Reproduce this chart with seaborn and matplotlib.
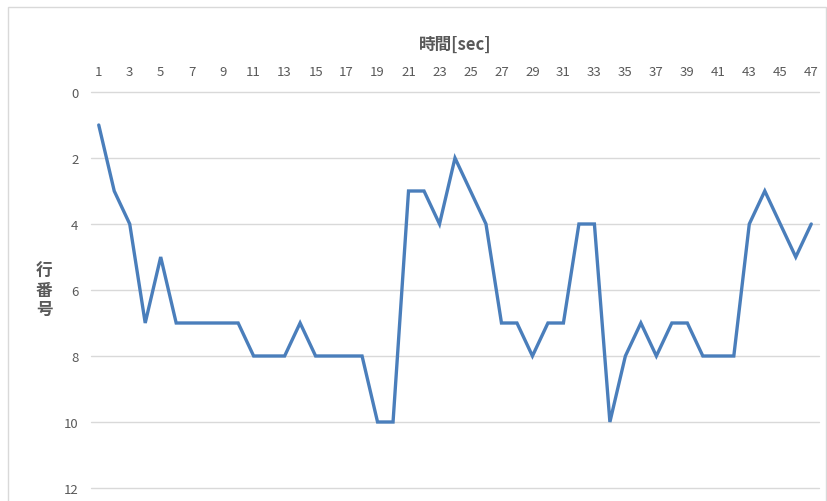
import matplotlib
matplotlib.use("Agg")
import matplotlib.pyplot as plt
import matplotlib.patches as mpatches
import seaborn as sns
import pandas as pd

# Elapsed time (seconds) and the row number observed at each second
seconds = list(range(1, 48))
row_numbers = [1, 3, 4, 7, 5, 7, 7, 7, 7, 7,
               8, 8, 8, 7, 8, 8, 8, 8, 10, 10,
               3, 3, 4, 2, 3, 4, 7, 7, 8, 7,
               7, 4, 4, 10, 8, 7, 8, 7, 7, 8,
               8, 8, 4, 3, 4, 5, 4]
y_ticks = [0, 2, 4, 6, 8, 10, 12]
x_ticks = list(range(1, 48, 2))
x_title = "時間[sec]"
y_title = "行\n番\n号"

df = pd.DataFrame({"sec": seconds, "row": row_numbers})

sns.set_theme(style="white")
plt.rcParams["font.family"] = ["Noto Sans CJK JP", "DejaVu Sans"]

W, H = 827, 502
fig = plt.figure(figsize=(W / 100, H / 100), dpi=100)
ax = fig.add_axes([91 / W, 1 - 489 / H, (819 - 91) / W, (489 - 93) / H])

sns.lineplot(data=df, x="sec", y="row", ax=ax, color="#4A7EBB",
             linewidth=2.4, solid_joinstyle="miter")

ax.set_xlim(0.5, 47.5)
ax.set_ylim(12, 0)
ax.set_yticks(y_ticks)
ax.set_xticks(x_ticks)
ax.xaxis.tick_top()
ax.xaxis.set_label_position("top")

tick_color = "#595959"
ax.tick_params(axis="x", length=0, pad=10, labelsize=9.5, labelcolor=tick_color)
ax.tick_params(axis="y", length=0, pad=9, labelsize=9.5, labelcolor=tick_color)

ax.grid(axis="y", color="#D9D9D9", linewidth=1.0)
ax.grid(axis="x", visible=False)
for gl in ax.yaxis.get_gridlines():
    gl.set_clip_on(False)
ax.set_axisbelow(True)
for side in ["left", "right", "bottom", "top"]:
    ax.spines[side].set_visible(False)

ax.set_xlabel(x_title, fontsize=12, fontweight="bold", color=tick_color, labelpad=12)
ax.set_ylabel(y_title, fontsize=12, fontweight="bold", color=tick_color,
              rotation=0, labelpad=14, va="center", linespacing=1.05)

# Light frame around the chart area
frame = mpatches.Rectangle((8 / W, -0.01), (826 - 8) / W, 1 - 8 / H + 0.01,
                           transform=fig.transFigure, fill=False,
                           edgecolor="#D9D9D9", linewidth=1.0)
fig.patches.append(frame)

fig.savefig("out.png", dpi=100)
